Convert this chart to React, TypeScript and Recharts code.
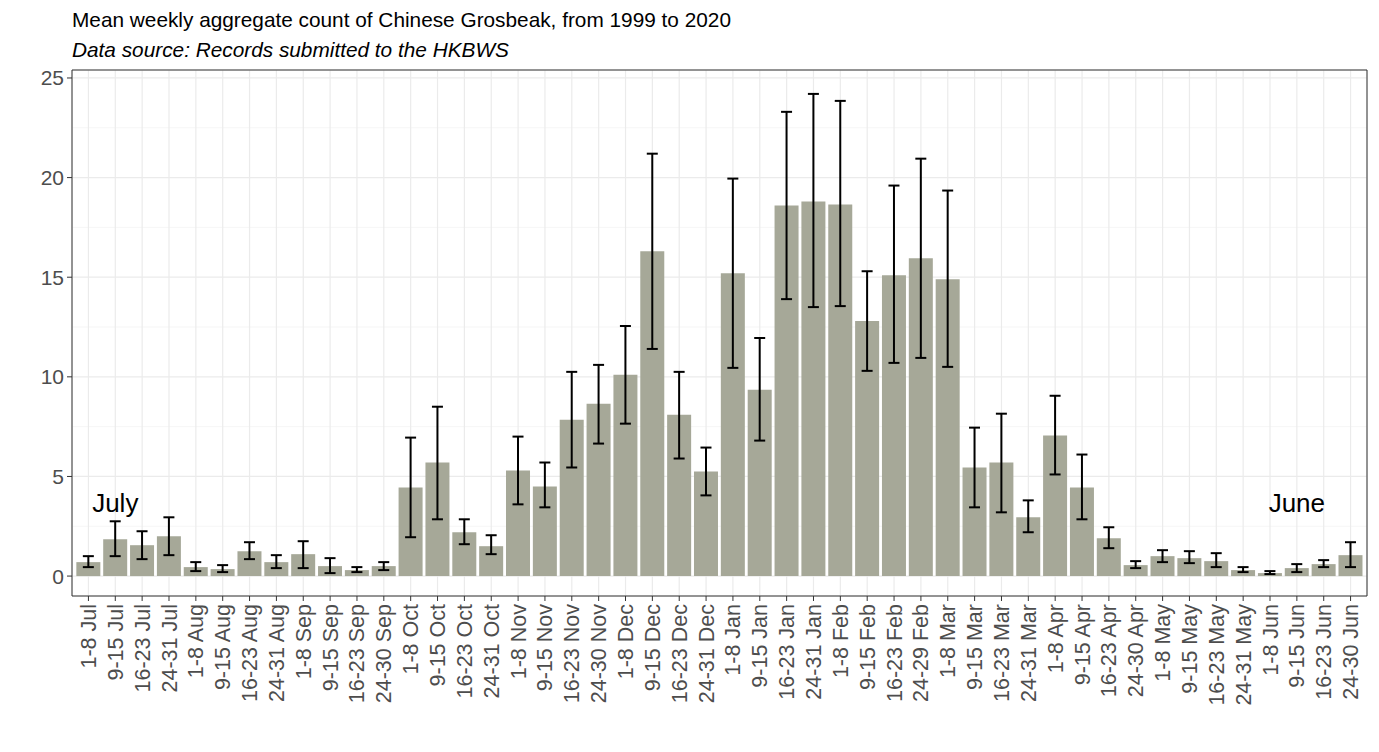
import { BarChart, Bar, XAxis, YAxis, CartesianGrid, ErrorBar, ReferenceDot } from "recharts";

const weeks = [
  "1-8 Jul", "9-15 Jul", "16-23 Jul", "24-31 Jul",
  "1-8 Aug", "9-15 Aug", "16-23 Aug", "24-31 Aug",
  "1-8 Sep", "9-15 Sep", "16-23 Sep", "24-30 Sep",
  "1-8 Oct", "9-15 Oct", "16-23 Oct", "24-31 Oct",
  "1-8 Nov", "9-15 Nov", "16-23 Nov", "24-30 Nov",
  "1-8 Dec", "9-15 Dec", "16-23 Dec", "24-31 Dec",
  "1-8 Jan", "9-15 Jan", "16-23 Jan", "24-31 Jan",
  "1-8 Feb", "9-15 Feb", "16-23 Feb", "24-29 Feb",
  "1-8 Mar", "9-15 Mar", "16-23 Mar", "24-31 Mar",
  "1-8 Apr", "9-15 Apr", "16-23 Apr", "24-30 Apr",
  "1-8 May", "9-15 May", "16-23 May", "24-31 May",
  "1-8 Jun", "9-15 Jun", "16-23 Jun", "24-30 Jun",
];

const means = [
  0.7, 1.85, 1.55, 2.0,
  0.45, 0.35, 1.25, 0.7,
  1.1, 0.5, 0.3, 0.5,
  4.45, 5.7, 2.2, 1.5,
  5.3, 4.5, 7.85, 8.65,
  10.1, 16.3, 8.1, 5.25,
  15.2, 9.35, 18.6, 18.8,
  18.65, 12.8, 15.1, 15.95,
  14.9, 5.45, 5.7, 2.95,
  7.05, 4.45, 1.9, 0.55,
  1.0, 0.9, 0.75, 0.3,
  0.15, 0.4, 0.6, 1.05,
];

const lows = [
  0.45, 1.0, 0.85, 1.05,
  0.25, 0.2, 0.85, 0.4,
  0.4, 0.15, 0.2, 0.3,
  1.95, 2.85, 1.6, 1.1,
  3.6, 3.45, 5.45, 6.65,
  7.65, 11.4, 5.9, 4.05,
  10.45, 6.8, 13.9, 13.5,
  13.55, 10.3, 10.7, 10.95,
  10.5, 3.45, 3.2, 2.2,
  5.1, 2.85, 1.4, 0.4,
  0.7, 0.65, 0.45, 0.2,
  0.1, 0.2, 0.45, 0.45,
];

const highs = [
  1.0, 2.75, 2.25, 2.95,
  0.7, 0.55, 1.7, 1.05,
  1.75, 0.9, 0.45, 0.7,
  6.95, 8.5, 2.85, 2.05,
  7.0, 5.7, 10.25, 10.6,
  12.55, 21.2, 10.25, 6.45,
  19.95, 11.95, 23.3, 24.2,
  23.85, 15.3, 19.6, 20.95,
  19.35, 7.45, 8.15, 3.8,
  9.05, 6.1, 2.45, 0.75,
  1.3, 1.25, 1.15, 0.45,
  0.25, 0.6, 0.8, 1.7,
];

const yTicks = [0, 5, 10, 15, 20, 25];
const minorTicks = [2.5, 7.5, 12.5, 17.5, 22.5];

const notes = [
  { text: "July", week: "9-15 Jul", y: 3.7 },
  { text: "June", week: "9-15 Jun", y: 3.7 },
];

const data = weeks.map((week, i) => ({
  week,
  mean: means[i],
  err: [means[i] - lows[i], highs[i] - means[i]],
}));

const FONT = "'Liberation Sans', Arial, sans-serif";

const WeekTick = (props: any) => {
  const { x, y, payload } = props;
  return (
    <text
      x={x}
      y={y}
      transform={`rotate(-90 ${x} ${y})`}
      textAnchor="end"
      dy="0.35em"
      fontSize={21.5}
      fill="#4d4d4d"
      fontFamily={FONT}
    >
      {payload.value}
    </text>
  );
};

export default function App() {
  return (
    <div style={{ position: "absolute", left: 0, top: 0, width: 1379, height: 752, background: "#fff", fontFamily: FONT }}>
      <div style={{ position: "absolute", left: 72, top: 8, fontSize: 20.8, color: "#000", whiteSpace: "nowrap" }}>
        Mean weekly aggregate count of Chinese Grosbeak, from 1999 to 2020
      </div>
      <div style={{ position: "absolute", left: 72, top: 38, fontSize: 20.8, fontStyle: "italic", color: "#000", whiteSpace: "nowrap" }}>
        Data source: Records submitted to the HKBWS
      </div>
      <div style={{ position: "absolute", left: 0, top: 0 }}>
        <BarChart
          width={1379}
          height={752}
          data={data}
          margin={{ top: 69, right: 11, bottom: 0, left: 0 }}
          barCategoryGap="5%"
        >
          <CartesianGrid stroke="#f4f4f4" strokeWidth={0.8} vertical={false} horizontalValues={minorTicks} />
          <CartesianGrid stroke="#ebebeb" strokeWidth={1.2} />
          <XAxis
            dataKey="week"
            interval={0}
            height={156}
            padding={{ left: 3, right: 3 }}
            stroke="#333"
            tickSize={5}
            tickMargin={3}
            tick={<WeekTick />}
          />
          <XAxis xAxisId="top" dataKey="week" orientation="top" height={1} tick={false} tickLine={false} stroke="#333" padding={{ left: 3, right: 3 }} />
          <YAxis
            type="number"
            domain={[-1, 25.4]}
            ticks={yTicks}
            allowDataOverflow
            width={72}
            stroke="#333"
            tickSize={5}
            tickMargin={3}
            tick={{ fontSize: 21, fill: "#4d4d4d", fontFamily: FONT }}
          />
          <YAxis yAxisId="right" orientation="right" width={1} domain={[-1, 25.4]} tick={false} tickLine={false} stroke="#333" />
          <Bar dataKey="mean" fill="#a6a898" isAnimationActive={false}>
            <ErrorBar dataKey="err" direction="y" width={5.5} stroke="#000" strokeWidth={2} isAnimationActive={false} />
          </Bar>
          {notes.map((n) => (
            <ReferenceDot
              key={n.text}
              x={n.week}
              y={n.y}
              r={0}
              fill="none"
              stroke="none"
              label={{ value: n.text, position: "center", fontSize: 26, fill: "#000", fontFamily: FONT }}
            />
          ))}
        </BarChart>
      </div>
    </div>
  );
}
